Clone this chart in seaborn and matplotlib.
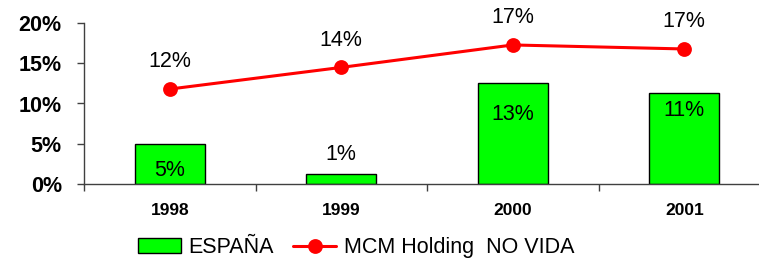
import numpy as np
import pandas as pd
import seaborn as sns
import matplotlib.pyplot as plt
from matplotlib.ticker import FuncFormatter

# data
years = ['1998', '1999', '2000', '2001']
espana = [5.0, 1.25, 12.6, 11.3]
mcm_no_vida = [11.8, 14.5, 17.3, 16.8]

GREEN = "#00FF00"
RED = "#FF0000"

sns.set_theme(style="white")
plt.rcParams['font.family'] = ['Liberation Sans', 'DejaVu Sans']
plt.rcParams['text.color'] = 'black'
plt.rcParams['xtick.labelcolor'] = 'black'
plt.rcParams['ytick.labelcolor'] = 'black'

df = pd.DataFrame({'year': years, 'espana': espana, 'mcm': mcm_no_vida})

fig = plt.figure(figsize=(7.59, 2.58), dpi=100)
ax = fig.add_axes([84 / 759, 74.3 / 258, 686 / 759, 160.4 / 258])

sns.barplot(data=df, x='year', y='espana', color=GREEN, edgecolor='black',
            linewidth=1, width=0.41, saturation=1, ax=ax, label='ESPAÑA')
sns.pointplot(data=df, x='year', y='mcm', color=RED, markers='o', markersize=9,
              linewidth=2.2, ax=ax, label='MCM Holding  NO VIDA')

ax.set_xlim(-0.5, 3.5)
ax.set_ylim(0, 20)
ax.set_yticks([0, 5, 10, 15, 20])
ax.yaxis.set_major_formatter(FuncFormatter(lambda v, p: '{:.0f}%'.format(v)))
ax.set_xlabel('')
ax.set_ylabel('')

for side in ['top', 'right']:
    ax.spines[side].set_visible(False)
for side in ['left', 'bottom']:
    ax.spines[side].set_color('#404040')
    ax.spines[side].set_linewidth(1)

ax.tick_params(axis='y', which='major', direction='out', length=5, width=1,
               color='#404040', pad=11, labelsize=15.5, left=True)
ax.tick_params(axis='x', which='major', length=0, pad=14, labelsize=12.5)
ax.set_xticks([-0.5, 0.5, 1.5, 2.5, 3.5], minor=True)
ax.tick_params(axis='x', which='minor', direction='out', length=5, width=1,
               color='#404040', bottom=True)
for lab in ax.get_xticklabels() + ax.get_yticklabels():
    lab.set_fontweight('bold')

# value labels
line_offset = 19.5
bar_offsets = [-19.5, 13.5, -23, -12.5]
for i, v in enumerate(mcm_no_vida):
    ax.annotate('{:.0f}%'.format(v), (i, v), xytext=(0, line_offset),
                textcoords='offset points', ha='center', va='center', fontsize=15.5)
for i, v in enumerate(espana):
    ax.annotate('{:.0f}%'.format(v), (i, v), xytext=(0, bar_offsets[i]),
                textcoords='offset points', ha='center', va='center', fontsize=15.5)

handles, labels = ax.get_legend_handles_labels()
order = [labels.index('ESPAÑA'), labels.index('MCM Holding  NO VIDA')]
ax.legend([handles[i] for i in order], [labels[i] for i in order],
          loc='center', bbox_to_anchor=(0.469, 0.039),
          bbox_transform=fig.transFigure, ncol=2, frameon=False, fontsize=15.5,
          handlelength=2.0, handletextpad=0.35, columnspacing=0.9,
          borderaxespad=0, borderpad=0)

fig.savefig('out.png', dpi=100)
